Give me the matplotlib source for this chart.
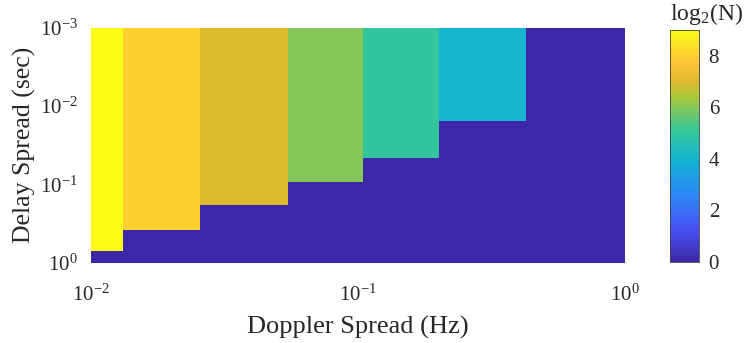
import numpy as np
import matplotlib
matplotlib.use("Agg")
import matplotlib.pyplot as plt
from matplotlib.colors import LinearSegmentedColormap, Normalize
from matplotlib.ticker import NullLocator, FixedLocator

plt.rcParams["font.family"] = ["Liberation Serif", "DejaVu Serif"]
plt.rcParams["mathtext.fontset"] = "custom"
plt.rcParams["mathtext.rm"] = "Liberation Serif"
plt.rcParams["mathtext.it"] = "Liberation Serif:italic"
plt.rcParams["mathtext.bf"] = "Liberation Serif:bold"

TEXT = "#262626"

# Doppler-spread bin edges (Hz) and the log2(N) level used in each bin
doppler_edges = [0.01, 0.0132, 0.0255, 0.0545, 0.104, 0.201, 0.425, 1.0]
log2n_levels = [9, 8, 7, 6, 5, 4, 0]
# largest delay spread (sec) covered by each level; beyond it N collapses to 1
delay_limits = [0.705, 0.389, 0.183, 0.0923, 0.0455, 0.01546, 0.001]

x_ticks = [1e-2, 1e-1, 1e0]
y_ticks = [1e-3, 1e-2, 1e-1, 1e0]
cbar_ticks = [0, 2, 4, 6, 8]

# parula-like colour map
parula_pts = [
    (0.0, (0.2422, 0.1504, 0.6603)),
    (1 / 7, (0.2810, 0.3228, 0.9579)),
    (2 / 7, (0.1786, 0.5289, 0.9682)),
    (3 / 7, (0.0689, 0.6948, 0.8394)),
    (4 / 7, (0.2161, 0.7843, 0.5923)),
    (5 / 7, (0.6720, 0.7793, 0.2227)),
    (7 / 9, (0.8600, 0.7300, 0.1800)),
    (6 / 7, (0.9970, 0.7659, 0.2199)),
    (1.0, (0.9769, 0.9839, 0.0805)),
]
parula = LinearSegmentedColormap.from_list("parula", parula_pts, N=256)

# build the grid of log2(N) over (delay, doppler)
delay_edges = np.array(sorted(set([1e-3] + delay_limits[:-1] + [1.0])))
xe = np.array(doppler_edges)
Z = np.zeros((len(delay_edges) - 1, len(xe) - 1))
for j, (lev, lim) in enumerate(zip(log2n_levels, delay_limits)):
    for i in range(len(delay_edges) - 1):
        if delay_edges[i + 1] <= lim * 1.0001:
            Z[i, j] = lev

fig = plt.figure(figsize=(7.48, 3.43), dpi=100)
ax = fig.add_axes([91 / 748, 1 - 262.5 / 343, 534 / 748, 234.5 / 343])
norm = Normalize(vmin=0, vmax=9)
mesh = ax.pcolormesh(xe, delay_edges, Z, cmap=parula, norm=norm,
                     shading="flat", antialiased=False, linewidth=0)
ax.set_xscale("log")
ax.set_yscale("log")
ax.set_xlim(1e-2, 1e0)
ax.set_ylim(1e0, 1e-3)
ax.xaxis.set_major_locator(FixedLocator(x_ticks))
ax.yaxis.set_major_locator(FixedLocator(y_ticks))
ax.xaxis.set_minor_locator(NullLocator())
ax.yaxis.set_minor_locator(NullLocator())
for s in ax.spines.values():
    s.set_visible(False)
ax.tick_params(axis="both", length=0, labelsize=15, colors=TEXT)
ax.tick_params(axis="x", pad=16)
ax.tick_params(axis="y", pad=9.5)
ax.set_xlabel("Doppler Spread (Hz)", fontsize=19, color=TEXT, labelpad=7)
ax.set_ylabel("Delay Spread (sec)", fontsize=18.5, color=TEXT, labelpad=3)

cax = fig.add_axes([670 / 748, 1 - 262 / 343, 29 / 748, 232 / 343])
cb = fig.colorbar(mesh, cax=cax, ticks=cbar_ticks)
cb.outline.set_linewidth(0.6)
cb.outline.set_edgecolor("#404040")
cax.tick_params(length=0, labelsize=15, colors=TEXT, pad=7)
fig.text(707 / 748, 1 - 14 / 343, r"log$_2$(N)", fontsize=17, color=TEXT,
         ha="center", va="center")

fig.savefig("out.png", dpi=100)
